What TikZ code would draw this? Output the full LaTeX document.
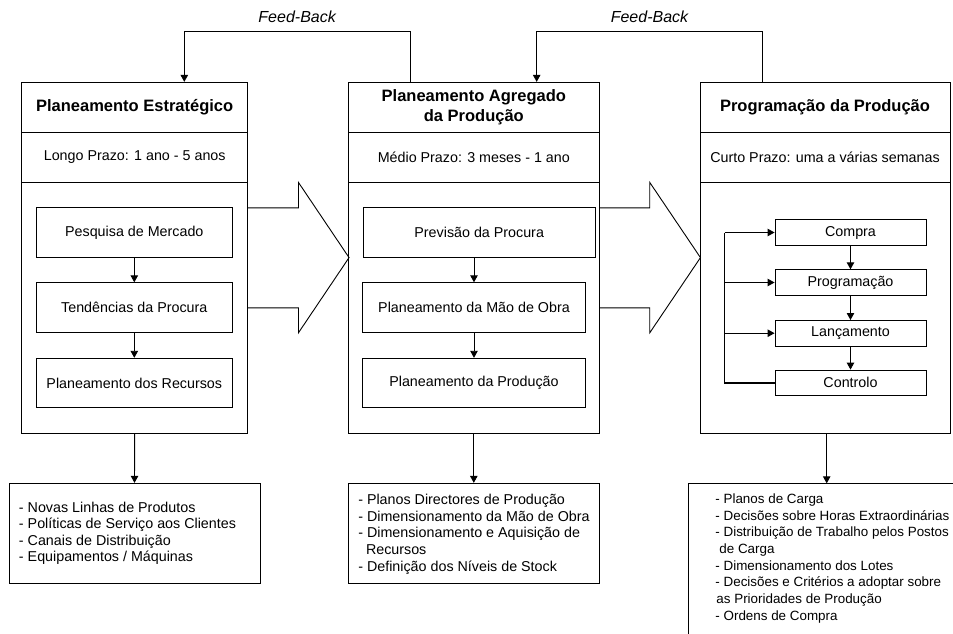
\documentclass[tikz,border=0pt]{standalone}
\usepackage{fontspec}
\setmainfont{Liberation Sans}
\usetikzlibrary{arrows.meta}

\newcommand{\bodyfont}{\fontsize{14.3}{16.6}\selectfont}
\newcommand{\smallbodyfont}{\fontsize{13.4}{16.67}\selectfont}
\newcommand{\headfont}{\fontsize{16.5}{20}\selectfont\bfseries}

\tikzset{
  cell/.style={draw, rectangle, inner sep=0pt, align=center, font=\bodyfont},
  titlecell/.style={cell, font=\headfont},
  stepbox/.style={draw, rectangle, inner sep=0pt, minimum height=49.5pt, font=\bodyfont},
  taskbox/.style={draw, rectangle, inner sep=0pt, minimum width=151pt, minimum height=25.5pt, font=\bodyfont},
  listbox/.style={draw, rectangle, inner sep=0pt, minimum width=251pt, minimum height=100pt},
  listtext/.style={inner sep=0pt, align=left, font=\bodyfont},
  fblabel/.style={font=\fontsize{16}{19}\selectfont\itshape, inner sep=0pt},
  bigarrow/.style={draw, line join=miter},
  loopline/.style={line width=1.7pt},
}

\begin{document}
\begin{tikzpicture}[x=1pt, y=-1pt, line width=0.9pt,
  >={Triangle[length=7pt,width=7.5pt]}]
\useasboundingbox (0,0) rectangle (953,633);
\clip (0,0) rectangle (953,633);

% ---- Strategic planning column ----
\node[titlecell, minimum width=226pt, minimum height=50pt] (ts) at (134.7,107.3) {Planeamento Estratégico};
\node[cell, minimum width=226pt, minimum height=50pt] (hs) at (134.7,157.3) {Longo Prazo: 1 ano - 5 anos};
\node[cell, minimum width=226pt, minimum height=251pt] (bs) at (134.7,307.8) {};
\node[stepbox, minimum width=196.5pt] (s1) at (134.3,232.5) {Pesquisa de Mercado};
\node[stepbox, minimum width=196.5pt] (s2) at (134.3,307.5) {Tendências da Procura};
\node[stepbox, minimum width=196.5pt] (s3) at (134.3,383.0) {Planeamento dos Recursos};
\draw[->] (s1) -- (s2);
\draw[->] (s2) -- (s3);

% ---- Aggregate planning column ----
\node[titlecell, minimum width=251pt, minimum height=50pt] (ta) at (473.8,107.3) {Planeamento Agregado\\da Produção};
\node[cell, minimum width=251pt, minimum height=50pt] (ha) at (473.8,157.3) {Médio Prazo: 3 meses - 1 ano};
\node[cell, minimum width=251pt, minimum height=251pt] (ba) at (473.8,307.8) {};
\node[stepbox, minimum width=231.7pt] (a1) at (479.2,232.5) {Previsão da Procura};
\node[stepbox, minimum width=223.4pt] (a2) at (474.0,307.5) {Planeamento da Mão de Obra};
\node[stepbox, minimum width=223.4pt] (a3) at (474.0,383.0) {Planeamento da Produção};
\draw[->] (a2.north |- a1.south) -- (a2.north);
\draw[->] (a2) -- (a3);

% ---- Production scheduling column ----
\node[titlecell, minimum width=250pt, minimum height=50pt] (tp) at (825,107.3) {Programação da Produção};
\node[cell, minimum width=250pt, minimum height=50pt] (hp) at (825,157.3) {Curto Prazo: uma a várias semanas};
\node[cell, minimum width=250pt, minimum height=251pt] (bp) at (825,307.8) {};
\node[taskbox] (cmp) at (850.5,232.5) {Compra};
\node[taskbox] (prg) at (850.5,282.5) {Programação};
\node[taskbox] (lan) at (850.5,333.2) {Lançamento};
\node[taskbox] (ctl) at (850.5,382.8) {Controlo};
\draw[->] (cmp) -- (prg);
\draw[->] (prg) -- (lan);
\draw[->] (lan) -- (ctl);
\draw[loopline] (ctl.west) -- ++(-50,0) coordinate (lp) -- (lp |- cmp.west);
\draw[->] (lp |- cmp.west) -- (cmp.west);
\draw[->] (lp |- prg.west) -- (prg.west);
\draw[->] (lp |- lan.west) -- (lan.west);

% ---- Feed-back loops ----
\draw[->] ([xshift=-63.8pt]ta.north) -- ++(0,-50)
  -| node[pos=0.25, yshift=15pt, fblabel] {Feed-Back} ([xshift=49.6pt]ts.north);
\draw[->] ([xshift=-62.7pt]tp.north) -- ++(0,-50)
  -| node[pos=0.25, yshift=15pt, fblabel] {Feed-Back} ([xshift=62.9pt]ta.north);

% ---- Block arrows between columns ----
\draw[bigarrow] ([yshift=100pt]bs.east) -- ++(50.3,0) -- ++(0,-25.4) -- ++(50.6,75.2)
  -- ++(-50.6,75.2) -- ++(0,-25) -- ++(-50.3,0);
\draw[bigarrow] ([yshift=100pt]ba.east) -- ++(50,0) -- ++(0,-25.4) -- ++(50.7,75.2)
  -- ++(-50.7,75.2) -- ++(0,-25) -- ++(-50,0);

% ---- Outcomes ----
\node[listbox] (os) at (134.5,533.3) {};
\node[listtext, anchor=west] (ost) at ([xshift=10pt]os.west)
  {- Novas Linhas de Produtos\\- Políticas de Serviço aos Clientes\\- Canais de Distribuição\\- Equipamentos / Máquinas};
\node[listbox] (oa) at (473.8,533.3) {};
\node[listtext, anchor=west] (oat) at ([xshift=10pt, yshift=-1pt]oa.west)
  {- Planos Directores de Produção\\- Dimensionamento da Mão de Obra\\- Dimensionamento e Aquisição de\\\hspace*{7.7pt}Recursos\\- Definição dos Níveis de Stock};
\node[draw, rectangle, anchor=north west, minimum width=300pt, minimum height=200pt] (op) at (688.3,483.3) {};
\node[listtext, font=\smallbodyfont, anchor=west] (opt) at (715,558.5)
  {- Planos de Carga\\- Decisões sobre Horas Extraordinárias\\- Distribuição de Trabalho pelos Postos\\\hspace*{4pt}de Carga\\- Dimensionamento dos Lotes\\- Decisões e Critérios a adoptar sobre\\\hspace*{1pt}as Prioridades de Produção\\- Ordens de Compra};
\draw[->] (bs.south) -- (os.north);
\draw[->] (ba.south) -- (oa.north);
\draw[->] ([xshift=1.7pt]bp.south) -- ([xshift=1.7pt]bp.south |- op.north);
\end{tikzpicture}
\end{document}
